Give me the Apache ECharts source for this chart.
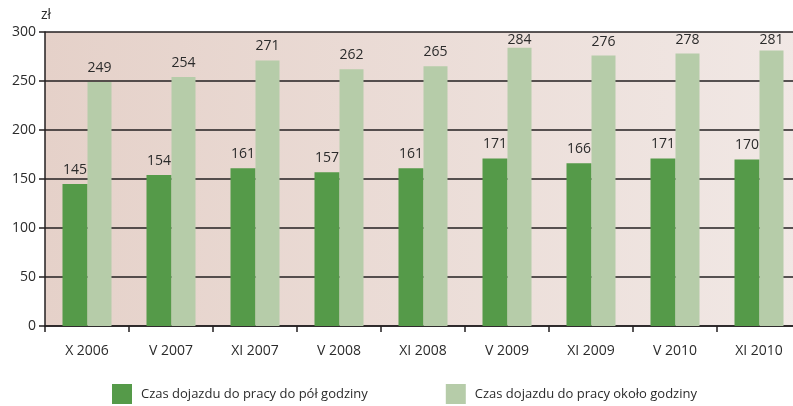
<!DOCTYPE html>
<html><head><meta charset="utf-8">
<script src="https://cdn.jsdelivr.net/npm/echarts@6/dist/echarts.min.js"></script>
<style>html,body{margin:0;padding:0;background:#fff}#c{width:793px;height:406px}</style>
</head><body><div id="c"></div>
<script>
const categories = ['X 2006','V 2007','XI 2007','V 2008','XI 2008','V 2009','XI 2009','V 2010','XI 2010'];
const halfHour = [145,154,161,157,161,171,166,171,170];
const aboutHour = [249,254,271,262,265,284,276,278,281];
const seriesNames = ['Czas dojazdu do pracy do pół godziny','Czas dojazdu do pracy około godziny'];
const yTicks = [0,50,100,150,200,250,300];

const font = 'Open Sans';
const chart = echarts.init(document.getElementById('c'));
const lbl = {show:true, position:'top', distance:7, color:'#2b2b2b', fontFamily:font, fontSize:14};
const gridTop = 32;
const keepInside = p => (p.labelRect.y < gridTop + 1)
  ? {x: p.labelRect.x + p.labelRect.width / 2, y: gridTop + 1, align:'center', verticalAlign:'top'}
  : {};
chart.setOption({
  animation:false,
  textStyle:{fontFamily:font},
  grid:{left:45, width:756, top:gridTop, height:294, show:true, borderWidth:0, outerBoundsMode:'none', containLabel:false,
    backgroundColor:{type:'linear',x:0,y:0,x2:1,y2:0,colorStops:[{offset:0,color:'#e5d1c9'},{offset:1,color:'#f1e8e5'}]}},
  graphic:[{type:'text', left:41, top:8, style:{text:'zł', fill:'#2b2b2b', font:'14px "Open Sans"'}}],
  legend:{bottom:-3, left:107, itemWidth:20, itemHeight:20, itemGap:78, icon:'rect',
    textStyle:{fontFamily:font, fontSize:13, color:'#2b2b2b', padding:[0,0,0,4]}},
  xAxis:{type:'category', data:categories,
    axisLine:{lineStyle:{color:'#231f20', width:1.5}},
    axisTick:{show:true, length:6, lineStyle:{color:'#231f20', width:1.5}},
    axisLabel:{color:'#2b2b2b', fontSize:14, fontFamily:font, margin:18}},
  yAxis:{type:'value', min:0, max:300, interval:50,
    axisLine:{show:true, lineStyle:{color:'#231f20', width:1.5}},
    axisTick:{show:true, length:6, lineStyle:{color:'#231f20', width:1.5}},
    axisLabel:{color:'#2b2b2b', fontSize:14, fontFamily:font, margin:9,
      formatter:v=>yTicks.includes(v)?String(v):''},
    splitLine:{show:true, lineStyle:{color:'#231f20', width:1.5}}},
  series:[
    {name:seriesNames[0], type:'bar', data:halfHour, barWidth:25, barGap:'0%',
      itemStyle:{color:'#559a49'}, label:lbl},
    {name:seriesNames[1], type:'bar', data:aboutHour, barWidth:24, barGap:'0%',
      itemStyle:{color:'#b6cca9'}, label:lbl, labelLayout:keepInside}
  ]
});
</script></body></html>
